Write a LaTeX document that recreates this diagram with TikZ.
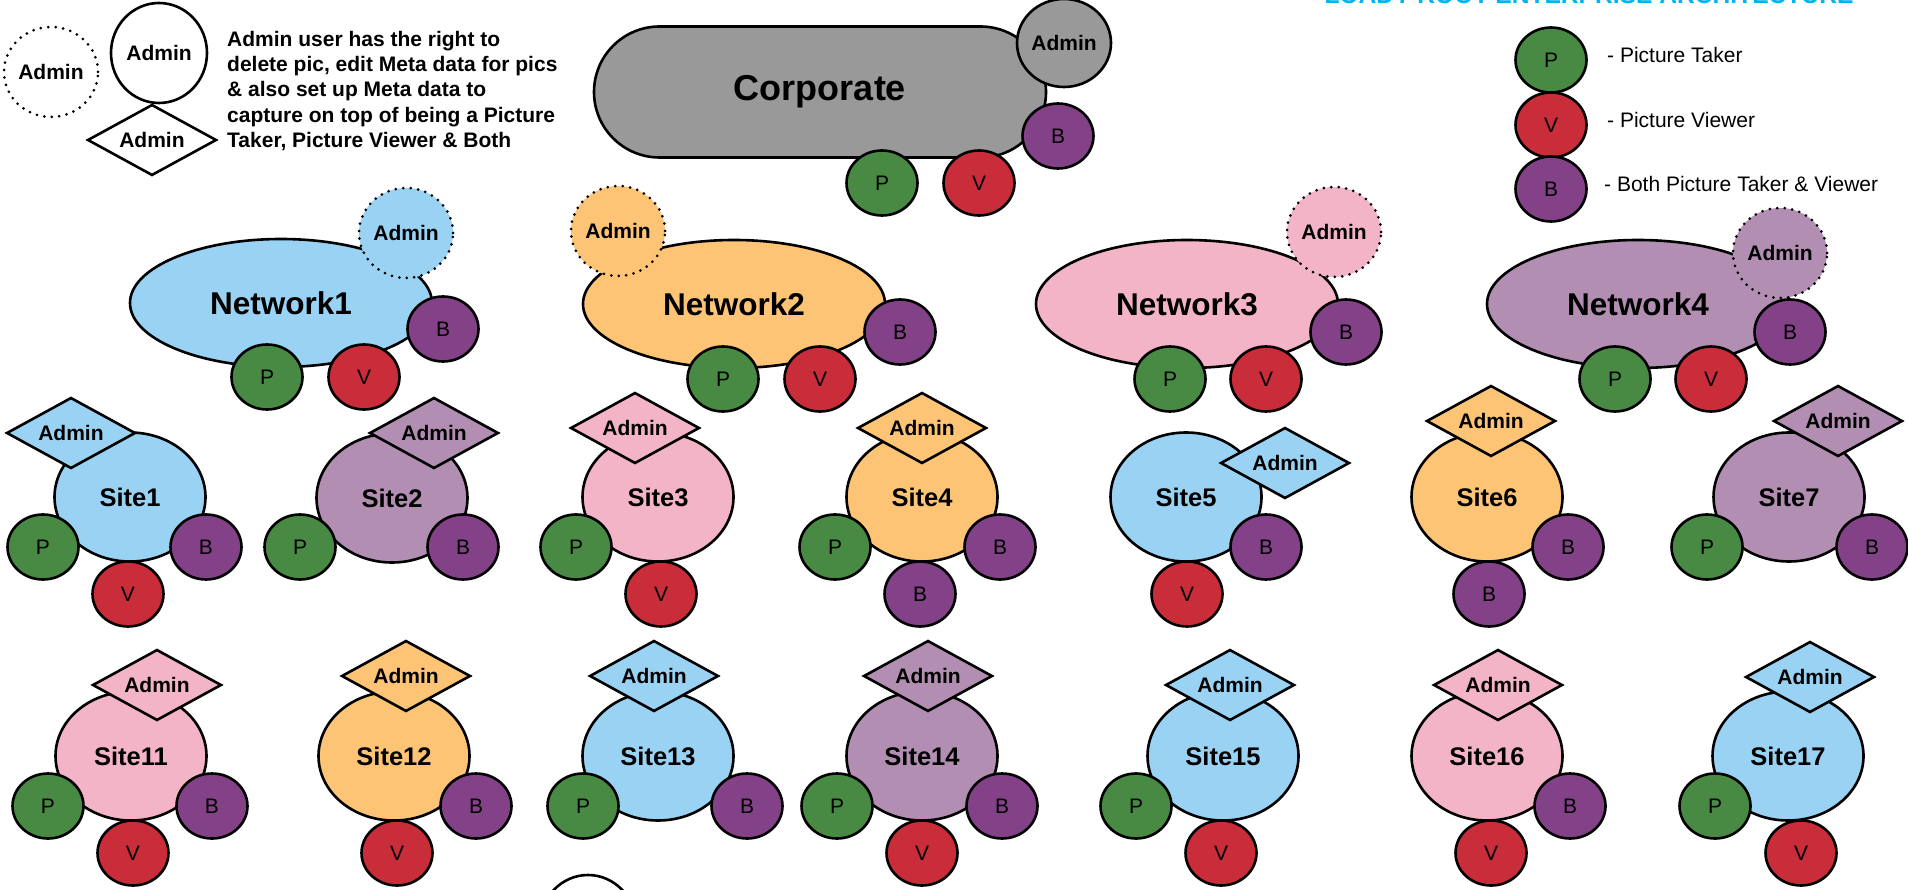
\documentclass[tikz,border=0pt]{standalone}
\usepackage{fontspec}
\setmainfont{Liberation Sans}
\usetikzlibrary{shapes.geometric,shapes.misc}
\definecolor{cblue}{RGB}{154,210,243}
\definecolor{corange}{RGB}{254,196,118}
\definecolor{cpink}{RGB}{243,180,200}
\definecolor{clilac}{RGB}{178,143,178}
\definecolor{cgray}{RGB}{153,153,153}
\definecolor{cgreen}{RGB}{72,138,67}
\definecolor{cred}{RGB}{201,45,57}
\definecolor{cpurple}{RGB}{131,65,135}
\definecolor{ccyan}{RGB}{0,180,240}

\begin{document}
\begin{tikzpicture}[x=1pt,y=-1pt,
    outl/.style={draw,line width=2.6pt,inner sep=0pt},
    netw/.style={outl,ellipse,minimum width=302pt,minimum height=128pt,font=\fontsize{31.5}{36}\selectfont\bfseries},
    site/.style={outl,ellipse,minimum width=151pt,minimum height=129pt,font=\fontsize{25.5}{30}\selectfont\bfseries},
    role/.style={outl,ellipse,minimum width=71pt,minimum height=65pt,font=\fontsize{21}{25}\selectfont},
    ptak/.style={role,fill=cgreen},
    pview/.style={role,fill=cred},
    pboth/.style={role,fill=cpurple},
    admc/.style={ellipse,draw,line width=3pt,dash pattern=on 0pt off 7.5pt,line cap=round,inner sep=0pt,
        minimum width=94pt,minimum height=90pt,font=\fontsize{21}{25}\selectfont\bfseries},
    admd/.style={outl,diamond,aspect=1.8,minimum width=129pt,minimum height=71pt,font=\fontsize{21}{25}\selectfont\bfseries},
    keytext/.style={anchor=west,inner sep=0pt,font=\fontsize{21}{25}\selectfont}]
            \useasboundingbox (0,0) rectangle (1908,890);
            \node (title) at (1589,4) [anchor=base,text=ccyan,inner sep=0pt,font=\fontsize{24.6}{28}\selectfont\bfseries] {LOADY ROOT ENTERPRISE ARCHITECTURE};

            \node (ka) at (51,72) [admc] {Admin};
            \node (kb) at (159,53) [outl,ellipse,minimum width=96pt,minimum height=100pt,font=\fontsize{21}{25}\selectfont\bfseries] {Admin};
            \node (kc) at (152,140) [admd] {Admin};
            \node (kt) at (227,91) [anchor=west,inner sep=0pt,align=left,font=\fontsize{21}{25.3}\selectfont\bfseries] {Admin user has the right to\\delete pic, edit Meta data for pics\\\& also set up Meta data to\\capture on top of being a Picture\\Taker, Picture Viewer \& Both};

            \node (kp) at (1551,60) [ptak] {P};
            \node (kv) at (1551,125) [pview] {V};
            \node (kbo) at (1551,189) [pboth] {B};
            \node (kpt) at (1607,55) [keytext] {- Picture Taker};
            \node (kvt) at (1607,120) [keytext] {- Picture Viewer};
            \node (kbt) at (1604,184) [keytext] {- Both Picture Taker \& Viewer};

            \node (corp) at (820,92) [outl,rounded rectangle,fill=cgray,minimum width=452pt,minimum height=131pt,font=\fontsize{36}{40}\selectfont\bfseries] {Corporate};
            \node (corpa) at (1064,43) [outl,ellipse,fill=cgray,minimum width=94pt,minimum height=88pt,font=\fontsize{21}{25}\selectfont\bfseries] {Admin};
            \node (corpb) at (1058,136) [pboth] {B};
            \node (corpp) at (882,183) [ptak] {P};
            \node (corpv) at (979,183) [pview] {V};

            \node (n1) at (281,303) [netw,fill=cblue] {Network1};
            \node (n1a) at (406,233) [admc,fill=cblue] {Admin};
            \node (n1p) at (267,377) [ptak] {P};
            \node (n1v) at (364,377) [pview] {V};
            \node (n1b) at (443,329) [pboth] {B};

            \node (n2) at (734,304) [netw,fill=corange] {Network2};
            \node (n2a) at (618,231) [admc,fill=corange] {Admin};
            \node (n2p) at (723,379) [ptak] {P};
            \node (n2v) at (820,379) [pview] {V};
            \node (n2b) at (900,332) [pboth] {B};

            \node (n3) at (1187,304) [netw,fill=cpink] {Network3};
            \node (n3a) at (1334,232) [admc,fill=cpink] {Admin};
            \node (n3p) at (1170,379) [ptak] {P};
            \node (n3v) at (1266,379) [pview] {V};
            \node (n3b) at (1346,332) [pboth] {B};

            \node (n4) at (1638,304) [netw,fill=clilac] {Network4};
            \node (n4a) at (1780,253) [admc,fill=clilac] {Admin};
            \node (n4p) at (1615,379) [ptak] {P};
            \node (n4v) at (1711,379) [pview] {V};
            \node (n4b) at (1790,332) [pboth] {B};

            \node (s1) at (130,497) [site,fill=cblue] {Site1};
            \node (s1a) at (71,433) [admd,fill=cblue] {Admin};
            \node (s1p) at (43,547) [ptak] {P};
            \node (s1b) at (206,547) [pboth] {B};
            \node (s1v) at (128,594) [pview] {V};

            \node (s2) at (392,498) [site,fill=clilac] {Site2};
            \node (s2a) at (434,433) [admd,fill=clilac] {Admin};
            \node (s2p) at (300,547) [ptak] {P};
            \node (s2b) at (463,547) [pboth] {B};

            \node (s3) at (658,497) [site,fill=cpink] {Site3};
            \node (s3a) at (635,428) [admd,fill=cpink] {Admin};
            \node (s3p) at (576,547) [ptak] {P};
            \node (s3v) at (661,594) [pview] {V};

            \node (s4) at (922,497) [site,fill=corange] {Site4};
            \node (s4a) at (922,428) [admd,fill=corange] {Admin};
            \node (s4p) at (835,547) [ptak] {P};
            \node (s4b) at (1000,547) [pboth] {B};
            \node (s4c) at (920,594) [pboth] {B};

            \node (s5) at (1186,497) [site,fill=cblue] {Site5};
            \node (s5a) at (1285,463) [admd,fill=cblue] {Admin};
            \node (s5b) at (1266,547) [pboth] {B};
            \node (s5v) at (1187,594) [pview] {V};

            \node (s6) at (1487,497) [site,fill=corange] {Site6};
            \node (s6a) at (1491,421) [admd,fill=corange] {Admin};
            \node (s6b) at (1568,547) [pboth] {B};
            \node (s6c) at (1489,594) [pboth] {B};

            \node (s7) at (1789,497) [site,fill=clilac] {Site7};
            \node (s7a) at (1838,421) [admd,fill=clilac] {Admin};
            \node (s7p) at (1707,547) [ptak] {P};
            \node (s7b) at (1872,547) [pboth] {B};

            \node (s11) at (131,756) [site,fill=cpink] {Site11};
            \node (s11a) at (157,685) [admd,fill=cpink] {Admin};
            \node (s11p) at (48,806) [ptak] {P};
            \node (s11b) at (212,806) [pboth] {B};
            \node (s11v) at (133,853) [pview] {V};

            \node (s12) at (394,756) [site,fill=corange] {Site12};
            \node (s12a) at (406,676) [admd,fill=corange] {Admin};
            \node (s12b) at (476,806) [pboth] {B};
            \node (s12v) at (397,853) [pview] {V};

            \node (s13) at (658,756) [site,fill=cblue] {Site13};
            \node (s13a) at (654,676) [admd,fill=cblue] {Admin};
            \node (s13p) at (583,806) [ptak] {P};
            \node (s13b) at (747,806) [pboth] {B};

            \node (s14) at (922,756) [site,fill=clilac] {Site14};
            \node (s14a) at (928,676) [admd,fill=clilac] {Admin};
            \node (s14p) at (837,806) [ptak] {P};
            \node (s14b) at (1002,806) [pboth] {B};
            \node (s14v) at (922,853) [pview] {V};

            \node (s15) at (1223,756) [site,fill=cblue] {Site15};
            \node (s15a) at (1230,685) [admd,fill=cblue] {Admin};
            \node (s15p) at (1136,806) [ptak] {P};
            \node (s15v) at (1221,853) [pview] {V};

            \node (s16) at (1487,756) [site,fill=cpink] {Site16};
            \node (s16a) at (1498,685) [admd,fill=cpink] {Admin};
            \node (s16b) at (1570,806) [pboth] {B};
            \node (s16v) at (1491,853) [pview] {V};

            \node (s17) at (1788,756) [site,fill=cblue] {Site17};
            \node (s17a) at (1810,677) [admd,fill=cblue] {Admin};
            \node (s17p) at (1715,806) [ptak] {P};
            \node (s17v) at (1801,853) [pview] {V};

            \node (extra) at (588,925) [outl,ellipse,fill=white,minimum width=96pt,minimum height=100pt] {};
        \end{tikzpicture}
\end{document}
